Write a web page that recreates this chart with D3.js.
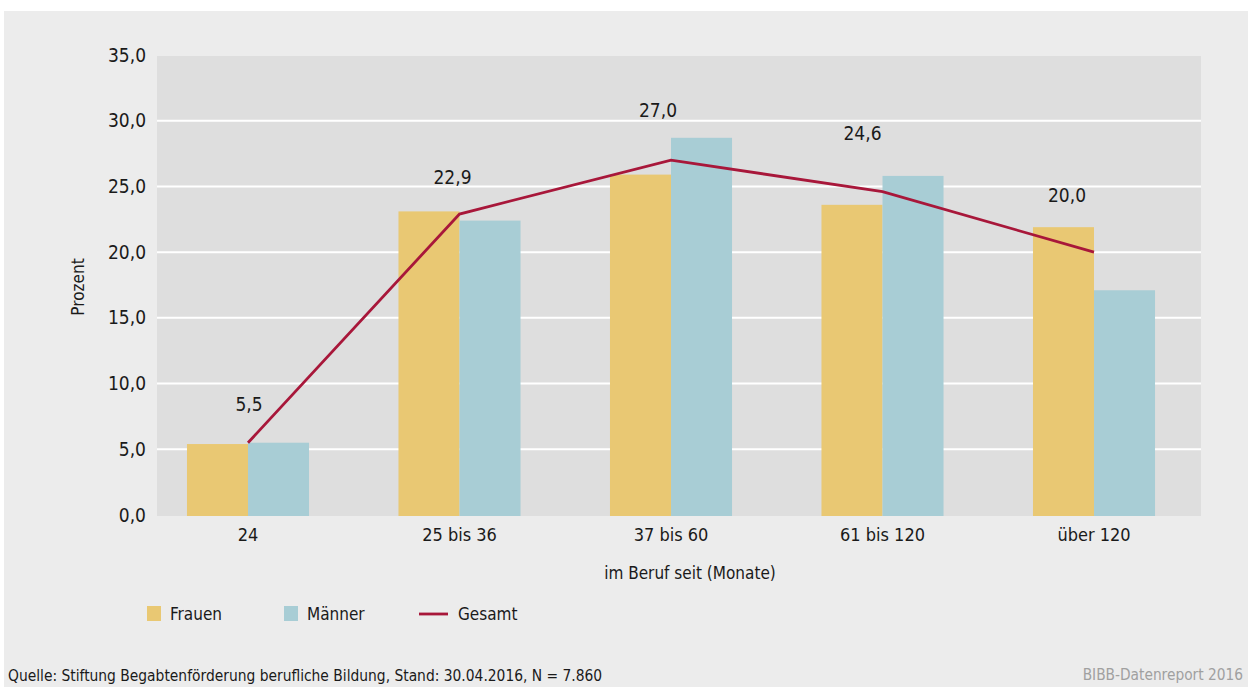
<!DOCTYPE html>
<html>
<head>
<meta charset="utf-8">
<script src="https://cdn.jsdelivr.net/npm/d3@7"></script>
<style>
  body { margin: 0; background: #fff; }
  text { font-family: "Liberation Sans Narrow", "DejaVu Sans Condensed", sans-serif; fill: #1a1a1a; }
</style>
</head>
<body>
<div id="chart"></div>
<script>
var categories = ["24", "25 bis 36", "37 bis 60", "61 bis 120", "über 120"];
var frauen = [5.4, 23.1, 25.9, 23.6, 21.9];
var maenner = [5.5, 22.4, 28.7, 25.8, 17.1];
var gesamt = [5.5, 22.9, 27.0, 24.6, 20.0];
var yTicks = [0, 5, 10, 15, 20, 25, 30, 35];

// hand placed value labels in the original, offsets from the line point
var labelShift = [[1, -38], [-7, -37], [-13, -50], [-20, -58], [-27, -57]];

var width = 1248,
    height = 687;

var fmt = function(v) { return d3.format(".1f")(v).replace(".", ","); };

var svg = d3.select("#chart").append("svg")
    .attr("width", width)
    .attr("height", height);

svg.append("rect")
    .attr("x", 4).attr("y", 11)
    .attr("width", width - 4).attr("height", height - 11)
    .attr("fill", "#ececec");

var plot = { left: 157, right: 1201, top: 56, bottom: 516 };

svg.append("rect")
    .attr("x", plot.left).attr("y", plot.top)
    .attr("width", plot.right - plot.left).attr("height", plot.bottom - plot.top)
    .attr("fill", "#dedede");

var y = d3.scaleLinear().domain([0, 35]).range([515, 55]);

var x = d3.scaleBand()
    .domain(categories)
    .range([142.25, 1199.75])
    .paddingInner(0.423)
    .paddingOuter(0.2115);

var xSub = d3.scaleBand()
    .domain(["frauen", "maenner"])
    .range([0, x.bandwidth()]);

// gridlines
svg.selectAll(".grid")
    .data(yTicks.filter(function(d) { return d > 0 && d < 35; }))
    .enter().append("line")
    .attr("class", "grid")
    .attr("x1", plot.left).attr("x2", plot.right)
    .attr("y1", function(d) { return y(d); })
    .attr("y2", function(d) { return y(d); })
    .attr("stroke", "#fff")
    .attr("stroke-width", 2);

// y axis
var yAxis = svg.append("g")
    .attr("transform", "translate(" + plot.left + ",0)")
    .call(d3.axisLeft(y).tickValues(yTicks).tickFormat(fmt).tickSize(0).tickPadding(11));
yAxis.select(".domain").remove();
yAxis.selectAll("text").attr("font-size", 19);

// x axis
var xAxis = svg.append("g")
    .attr("transform", "translate(0," + plot.bottom + ")")
    .call(d3.axisBottom(x).tickSize(0).tickPadding(12));
xAxis.select(".domain").remove();
xAxis.selectAll("text").attr("font-size", 18);

// bars
var groups = svg.selectAll(".group")
    .data(categories)
    .enter().append("g")
    .attr("class", "group")
    .attr("transform", function(d) { return "translate(" + x(d) + ",0)"; });

groups.append("rect")
    .attr("x", xSub("frauen"))
    .attr("width", xSub.bandwidth())
    .attr("y", function(d, i) { return y(frauen[i]); })
    .attr("height", function(d, i) { return y(0) - y(frauen[i]) + 1; })
    .attr("fill", "#e9c873");

groups.append("rect")
    .attr("x", xSub("maenner"))
    .attr("width", xSub.bandwidth())
    .attr("y", function(d, i) { return y(maenner[i]); })
    .attr("height", function(d, i) { return y(0) - y(maenner[i]) + 1; })
    .attr("fill", "#a8cdd5");

// line
var cx = function(d, i) { return x(categories[i]) + x.bandwidth() / 2; };

svg.append("path")
    .datum(gesamt)
    .attr("fill", "none")
    .attr("stroke", "#a8173a")
    .attr("stroke-width", 2.8)
    .attr("d", d3.line().x(cx).y(function(d) { return y(d); }));

svg.selectAll(".val")
    .data(gesamt)
    .enter().append("text")
    .attr("class", "val")
    .attr("x", function(d, i) { return cx(d, i) + labelShift[i][0]; })
    .attr("y", function(d, i) { return y(d) + labelShift[i][1]; })
    .attr("dy", "0.35em")
    .attr("text-anchor", "middle")
    .attr("font-size", 19)
    .text(fmt);

// axis titles
svg.append("text")
    .attr("x", 690).attr("y", 573)
    .attr("dy", "0.35em")
    .attr("text-anchor", "middle")
    .attr("font-size", 17)
    .text("im Beruf seit (Monate)");

svg.append("text")
    .attr("transform", "translate(78,287) rotate(-90)")
    .attr("dy", "0.35em")
    .attr("text-anchor", "middle")
    .attr("font-size", 17)
    .text("Prozent");

// legend
var legend = [
  { name: "Frauen", type: "box", color: "#e9c873", x: 147 },
  { name: "Männer", type: "box", color: "#a8cdd5", x: 284 },
  { name: "Gesamt", type: "line", color: "#a8173a", x: 419 }
];

var lg = svg.selectAll(".legend")
    .data(legend)
    .enter().append("g")
    .attr("class", "legend")
    .attr("transform", function(d) { return "translate(" + d.x + ",614)"; });

lg.filter(function(d) { return d.type === "box"; }).append("rect")
    .attr("x", 0).attr("y", -8)
    .attr("width", 14).attr("height", 15)
    .attr("fill", function(d) { return d.color; });

lg.filter(function(d) { return d.type === "line"; }).append("line")
    .attr("x1", 0).attr("x2", 29)
    .attr("stroke", function(d) { return d.color; })
    .attr("stroke-width", 2.8);

lg.append("text")
    .attr("x", function(d) { return d.type === "box" ? 23 : 39; })
    .attr("dy", "0.35em")
    .attr("font-size", 17)
    .text(function(d) { return d.name; });

// footer
svg.append("text")
    .attr("x", 8).attr("y", 676)
    .attr("dy", "0.35em")
    .attr("font-size", 15.4)
    .text("Quelle: Stiftung Begabtenförderung berufliche Bildung, Stand: 30.04.2016, N = 7.860");

svg.append("text")
    .attr("x", 1243).attr("y", 675)
    .attr("dy", "0.35em")
    .attr("text-anchor", "end")
    .attr("font-size", 15.3)
    .style("fill", "#a0a0a0")
    .text("BIBB-Datenreport 2016");
</script>
</body>
</html>
